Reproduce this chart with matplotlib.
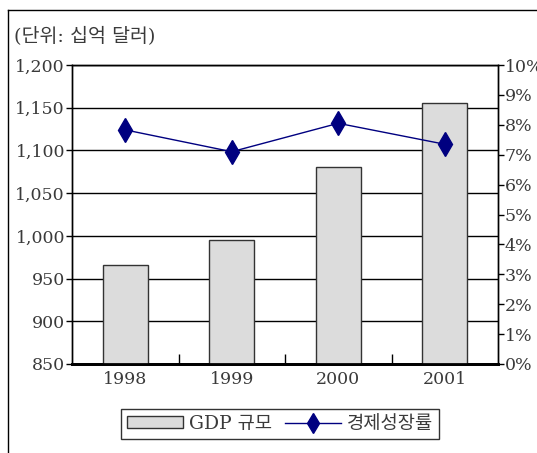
import matplotlib
matplotlib.use("Agg")
import matplotlib.pyplot as plt
from matplotlib.lines import Line2D

plt.rcParams['font.family'] = ['DejaVu Serif', 'Noto Sans CJK KR', 'DejaVu Sans']

years = ['1998', '1999', '2000', '2001']
gdp = [966, 995, 1081, 1155]
growth = [7.83, 7.10, 8.05, 7.35]
left_ticks = [850, 900, 950, 1000, 1050, 1100, 1150, 1200]
right_ticks = list(range(0, 11))

TXT = '#3a3a3a'
NAVY = '#000080'

fig = plt.figure(figsize=(5.37, 4.53), dpi=100)
ax = fig.add_axes([72/537, 1-364/453, (498-72)/537, (364-65)/453])
x = list(range(len(years)))
bars = ax.bar(x, gdp, width=0.42, color='#dcdcdc', edgecolor='#333333', linewidth=1.0,
              label='GDP 규모', zorder=3)
ax.set_ylim(850, 1200)
ax.set_xlim(-0.5, 3.5)
ax.set_yticks(left_ticks)
ax.set_yticklabels([f'{v:,}' for v in left_ticks], fontsize=12.5, color=TXT)
ax.yaxis.grid(True, color='black', linewidth=1.0, zorder=0)
ax.set_axisbelow(True)
ax.set_xticks(x)
ax.set_xticklabels(years, fontsize=12.5, color=TXT)
ax.tick_params(axis='x', length=0, pad=5)
ax.set_xticks([0.5, 1.5, 2.5], minor=True)
ax.tick_params(axis='x', which='minor', direction='in', length=7, width=1, color='black')
ax.tick_params(axis='y', length=4, width=1, direction='out', pad=1)
for s in ax.spines.values():
    s.set_color('black')
    s.set_linewidth(1.0)
ax.spines['bottom'].set_linewidth(2.0)

ax2 = ax.twinx()
ax2.plot(x, growth, color=NAVY, linewidth=1.0, marker='d', markersize=12,
         markerfacecolor=NAVY, markeredgecolor=NAVY, label='경제성장률', zorder=5)
ax2.set_ylim(0, 10)
ax2.set_yticks(right_ticks)
ax2.set_yticklabels([f'{v}%' for v in right_ticks], fontsize=12.5, color=TXT)
ax2.tick_params(axis='y', length=4, width=1, direction='out', pad=1)
for s in ax2.spines.values():
    s.set_color('black')
    s.set_linewidth(1.0)
ax2.spines['bottom'].set_linewidth(2.0)

fig.text(14/537, 1-37/453, '(단위: 십억 달러)', fontsize=14, color=TXT,
         ha='left', va='center')

handles = [bars, Line2D([], [], color=NAVY, linewidth=1.0, marker='d', markersize=10,
                        markerfacecolor=NAVY, markeredgecolor=NAVY)]
leg = fig.legend(handles, ['GDP 규모', '경제성장률'], loc='center',
                 bbox_to_anchor=(280/537, 1-424/453), ncol=2, frameon=True,
                 fancybox=False, edgecolor='black', fontsize=13.5, handlelength=3.0,
                 handleheight=0.6, handletextpad=0.3, columnspacing=0.7, borderpad=0.3)
leg.get_frame().set_linewidth(1.0)
for t in leg.get_texts():
    t.set_color(TXT)

fig.add_artist(Line2D([8/537, 8/537], [0, 1-10/453], transform=fig.transFigure,
                      color='black', linewidth=1.0))
fig.add_artist(Line2D([8/537, 1], [1-10/453, 1-10/453], transform=fig.transFigure,
                      color='black', linewidth=1.0))

fig.savefig('out.png', dpi=100)
